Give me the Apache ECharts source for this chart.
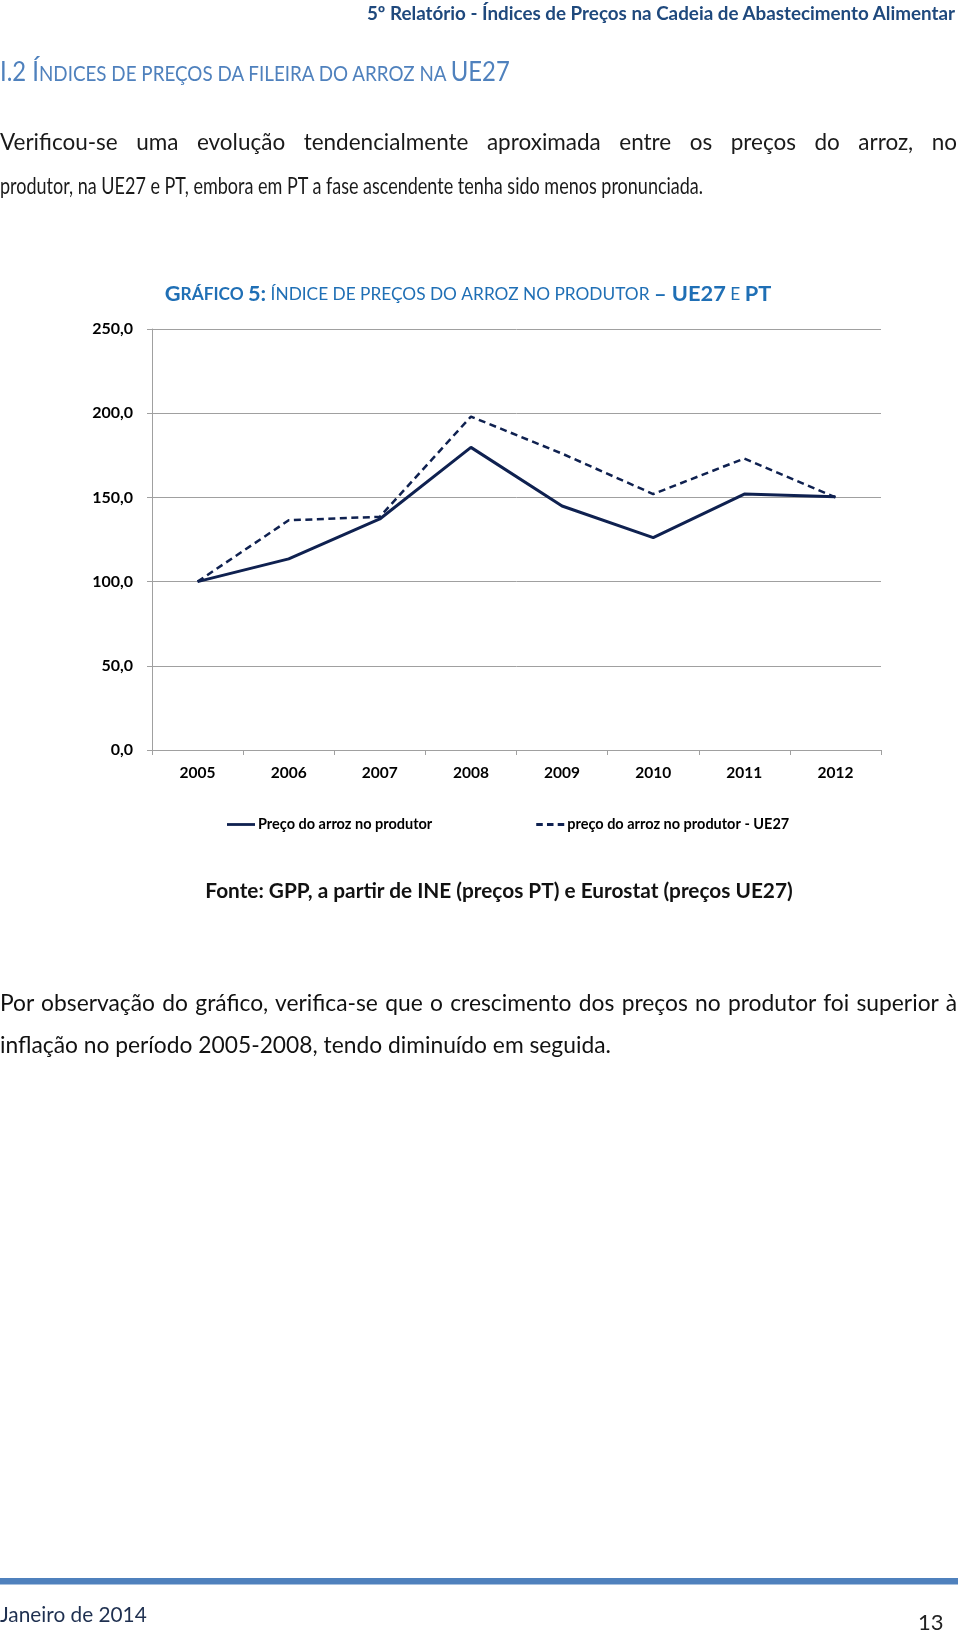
<!DOCTYPE html>
<html>
<head>
<meta charset="utf-8">
<script src="https://cdn.jsdelivr.net/npm/echarts@6/dist/echarts.min.js"></script>
<style>
  html, body { margin: 0; padding: 0; background: #fff; }
  body { width: 960px; height: 1633px; position: relative; overflow: hidden; font-family: Lato, "Open Sans", sans-serif; }
  #chart { position: absolute; left: 0; top: 0; width: 960px; height: 1633px; }
  .t { position: absolute; white-space: nowrap; }
  .just { position: absolute; left: 0; text-align: justify; text-align-last: justify; white-space: nowrap; transform-origin: 0 0; }
</style>
</head>
<body>
<div id="chart"></div>

<div class="t" style="right:5px; top:1px; font-size:19px; font-weight:bold; color:#1F497D; transform: scaleX(0.99); transform-origin: 100% 0;">5º Relatório - Índices de Preços na Cadeia de Abastecimento Alimentar</div>

<div class="t" style="left:0; top:55px; color:#4F81BD; transform: scaleX(0.918); transform-origin: 0 0;"><span style="font-size:26px;">I.2 Í</span><span style="font-size:20.5px;">NDICES DE PREÇOS DA FILEIRA DO ARROZ NA </span><span style="font-size:26px;">UE27</span></div>

<div class="just" style="top:128px; width:957px; font-size:22.5px; color:#1a1a1a;">Verificou-se uma evolução tendencialmente aproximada entre os preços do arroz, no</div>
<div class="t" style="left:0; top:172px; font-size:22.5px; color:#1a1a1a; transform: scaleX(0.8); transform-origin: 0 0;">produtor, na UE27 e PT, embora em PT a fase ascendente tenha sido menos pronunciada.</div>

<div class="t" style="left:0; width:960px; text-align:center; top:877px; font-size:20.8px; font-weight:bold; color:#111;"><span style="position:relative; left:19px;">Fonte: GPP, a partir de INE (preços PT) e Eurostat (preços UE27)</span></div>

<div class="just" style="top:988px; width:957px; font-size:22.8px; color:#111;">Por observação do gráfico, verifica-se que o crescimento dos preços no produtor foi superior à</div>
<div class="t" style="left:0; top:1030px; font-size:22.8px; color:#111;">inflação no período 2005-2008, tendo diminuído em seguida.</div>

<div style="position:absolute; left:0; top:1578px; width:958px; height:6px; background:#4F81BD; border-bottom:1px solid #A7C0DE;"></div>
<div class="t" style="left:0; top:1601px; font-size:20.8px; color:#1F3050;">Janeiro de 2014</div>
<div class="t" style="left:918px; top:1608px; font-size:22px; color:#222;">13</div>

<script>
// ---- data ----
var categories = ['2005', '2006', '2007', '2008', '2009', '2010', '2011', '2012'];
var seriesPT = [100.0, 113.5, 137.2, 179.7, 144.9, 126.1, 152.0, 150.4];
var seriesUE27 = [100.0, 136.4, 138.5, 198.0, 176.0, 152.0, 173.1, 150.0];
var seriesNames = ['Preço do arroz no produtor', 'preço do arroz no produtor - UE27'];
var yTicks = { min: 0, max: 250, interval: 50 };

var lineColor = '#0F2150';
var chart = echarts.init(document.getElementById('chart'), null, { renderer: 'canvas' });
chart.setOption({
  animation: false,
  backgroundColor: 'transparent',
  textStyle: { fontFamily: 'Lato, "Open Sans", sans-serif' },
  title: {
    left: 463, top: 278, textAlign: 'center',
    text: '{b|G}{s|RÁFICO }{b|5:}{n| ÍNDICE DE PREÇOS DO ARROZ NO PRODUTOR }{b|– UE27}{n| E }{b|PT}',
    textStyle: {
      rich: {
        b: { fontSize: 21.8, fontWeight: 'bold', color: '#1F6FB5', fontFamily: 'Lato' },
        s: { fontSize: 17.3, fontWeight: 'bold', color: '#1F6FB5', fontFamily: 'Lato' },
        n: { fontSize: 17.3, fontWeight: 'normal', color: '#1F6FB5', fontFamily: 'Lato' }
      }
    }
  },
  legend: {
    left: 222, top: 812,
    itemWidth: 28, itemHeight: 3, itemGap: 104,
    textStyle: { fontSize: 14.5, fontWeight: 'bold', color: '#000', padding: [0, 0, 0, -2] },
    data: [
      { name: seriesNames[0], icon: 'path://M0,0h30v3h-30z', itemStyle: { color: lineColor } },
      { name: seriesNames[1], icon: 'path://M0,0h7v3h-7z M11.5,0h7v3h-7z M23,0h7v3h-7z', itemStyle: { color: lineColor } }
    ]
  },
  grid: { left: 152, right: 79, top: 329, bottom: 883, containLabel: false },
  xAxis: {
    type: 'category', data: categories, boundaryGap: true,
    axisLine: { lineStyle: { color: '#A0A0A0', width: 1 } },
    axisTick: { show: true, length: 5, lineStyle: { color: '#A0A0A0' } },
    axisLabel: { fontSize: 15.5, fontWeight: 'bold', color: '#000', margin: 15 }
  },
  yAxis: {
    type: 'value', min: yTicks.min, max: yTicks.max, interval: yTicks.interval,
    axisLine: { show: true, lineStyle: { color: '#A0A0A0', width: 1 } },
    axisTick: { show: true, length: 5, lineStyle: { color: '#A0A0A0' } },
    splitLine: { lineStyle: { color: '#A0A0A0', width: 1 } },
    axisLabel: {
      fontSize: 16, fontWeight: 'bold', color: '#000', margin: 19,
      formatter: function (v) { return v.toFixed(1).replace('.', ','); }
    }
  },
  series: [
    {
      name: seriesNames[0], type: 'line', data: seriesPT, symbol: 'none',
      lineStyle: { color: lineColor, width: 3, type: 'solid' },
      itemStyle: { color: lineColor }, z: 3
    },
    {
      name: seriesNames[1], type: 'line', data: seriesUE27, symbol: 'none',
      lineStyle: { color: lineColor, width: 2.5, type: [7, 4.5] },
      itemStyle: { color: lineColor }, z: 2
    }
  ]
});
</script>
</body>
</html>
